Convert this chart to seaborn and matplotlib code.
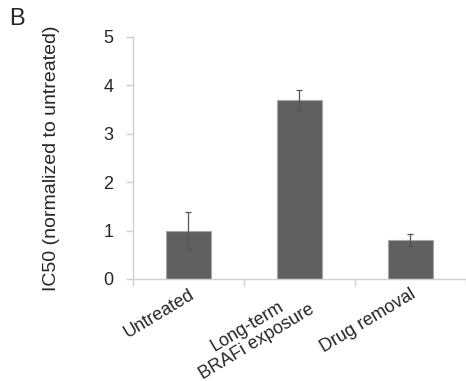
import matplotlib
matplotlib.use("Agg")
import matplotlib.pyplot as plt
import seaborn as sns
import pandas as pd
import numpy as np

# Data
conditions = ["Untreated", "Long-term\nBRAFi exposure", "Drug removal"]
ic50 = [1.0, 3.7, 0.8]
ic50_err = [0.39, 0.2, 0.13]

sns.set_style("white")
plt.rcParams['font.family'] = ['Liberation Sans', 'DejaVu Sans']

df = pd.DataFrame({'Condition': conditions, 'IC50': ic50})

fig = plt.figure(figsize=(4.66, 3.81), dpi=100)
ax = fig.add_axes([0.285, 0.268, 0.715, 0.635])

sns.barplot(data=df, x='Condition', y='IC50', color='#606060', width=0.4,
            edgecolor='#a8a8a8', linewidth=0.8, saturation=1, ax=ax)
ax.errorbar(np.arange(len(conditions)), ic50, yerr=ic50_err, fmt='none',
            ecolor='#555555', elinewidth=0.9, capsize=2.3, capthick=0.9)

ax.set_xlim(-0.5, 2.5)
ax.set_ylim(0, 5)
ax.set_yticks([0, 1, 2, 3, 4, 5])
ax.set_xlabel("")
ax.set_ylabel("IC50 (normalized to untreated)", fontsize=14)
ax.yaxis.set_label_coords(-0.22, 0.5)

for s in ['top', 'right']:
    ax.spines[s].set_visible(False)
for s in ['left', 'bottom']:
    ax.spines[s].set_color('#d0d0d0')
    ax.spines[s].set_linewidth(1.0)

ax.tick_params(axis='y', which='major', length=5, color='#d0d0d0', width=1,
               labelsize=13, pad=9, left=True)
ax.tick_params(axis='x', which='major', length=0, labelsize=13, pad=5)
ax.set_xticks([-0.5, 0.5, 1.5, 2.5], minor=True)
ax.tick_params(axis='x', which='minor', length=5, color='#d0d0d0', width=1, bottom=True)

for lab in ax.get_xticklabels():
    lab.set_rotation(31)
    lab.set_ha('right')
    lab.set_rotation_mode('anchor')
    lab.set_multialignment('center')
    lab.set_linespacing(1.0)

fig.text(0.019, 0.978, "B", fontsize=17, ha='left', va='top')

fig.savefig("out.png", dpi=100)
